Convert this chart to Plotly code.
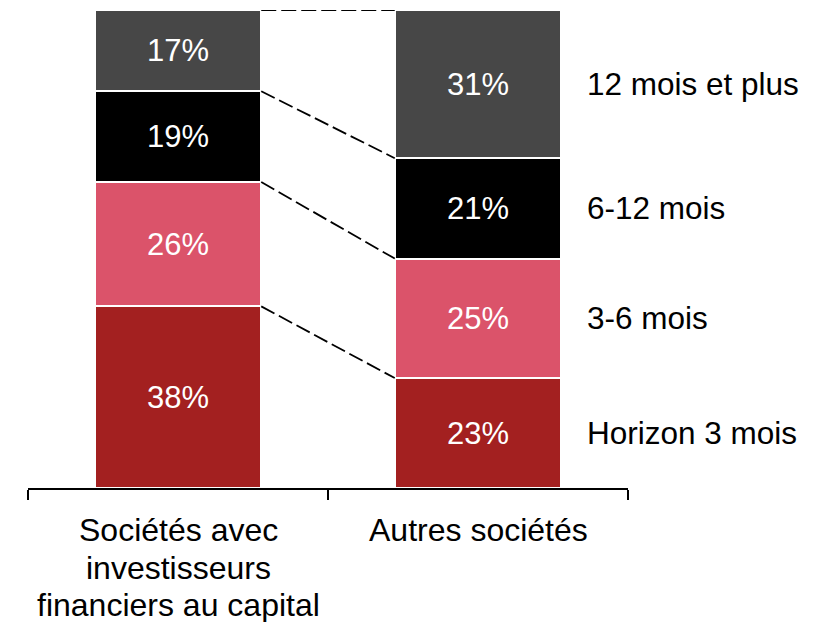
import numpy as np
import plotly.graph_objects as go

# ============================ DATA ===============================
groups = ['Sociétés avec<br>investisseurs<br>financiers au capital', 'Autres sociétés']
horizons = ['Horizon 3 mois', '3-6 mois', '6-12 mois', '12 mois et plus']
avec_invest = [38, 26, 19, 17]
autres = [23, 25, 21, 31]
colors = ['#A32020', '#DB536A', '#000000', '#474747']

bar_w = 0.555
font_fam = 'Liberation Sans, Arial, sans-serif'

# ============================ FIGURE ===============================
fig = go.Figure()
for i, h in enumerate(horizons):
    vals = [avec_invest[i], autres[i]]
    fig.add_bar(x=groups, y=vals, name=h, width=bar_w,
                marker_color=colors[i],
                marker_line=dict(color='white', width=2),
                text=[f'{v}%' for v in vals],
                textposition='inside', insidetextanchor='middle',
                constraintext='none',
                textfont=dict(color='white', size=31, family=font_fam),
                hoverinfo='skip')

# -------- dashed connectors between segment tops -------------
top1 = np.cumsum(avec_invest)
top2 = np.cumsum(autres)
for a, b in zip(top1, top2):
    fig.add_shape(type='line', xref='x', yref='y',
                  x0=0 + bar_w / 2, x1=1 - bar_w / 2, y0=a, y1=b,
                  line=dict(color='black', width=1.8, dash='15px,5px'))

# -------- right-side labels -------------
base2 = top2 - np.array(autres)
for i, h in enumerate(horizons):
    fig.add_annotation(x=1 + bar_w / 2, y=base2[i] + autres[i] / 2,
                       xref='x', yref='y', text=h, showarrow=False,
                       xanchor='left', xshift=24,
                       font=dict(size=31.5, color='black', family=font_fam))

# -------- category labels (tighter line spacing than plotly ticks) -------------
line_y = [-0.088, -0.167, -0.245]
for gi, g in enumerate(groups):
    for li, line in enumerate(g.split('<br>')):
        fig.add_annotation(x=gi, y=line_y[li], xref='x', yref='paper',
                           text=line, showarrow=False,
                           xanchor='center', yanchor='middle',
                           font=dict(size=32, color='black', family=font_fam))

fig.update_layout(
    barmode='stack',
    width=826, height=622,
    showlegend=False,
    paper_bgcolor='white',
    plot_bgcolor='white',
    margin=dict(l=20, r=206, t=2, b=142),
    font=dict(family=font_fam, size=31, color='black'),
    xaxis=dict(
        type='category',
        range=[-0.5, 1.5],
        tickson='boundaries',
        ticks='outside', ticklen=10, tickwidth=1.5, tickcolor='black',
        showline=True, linecolor='black', linewidth=1.5,
        showgrid=False,
        showticklabels=False,
    ),
    yaxis=dict(range=[0, 100], visible=False),
)

fig.write_html("out.html")
